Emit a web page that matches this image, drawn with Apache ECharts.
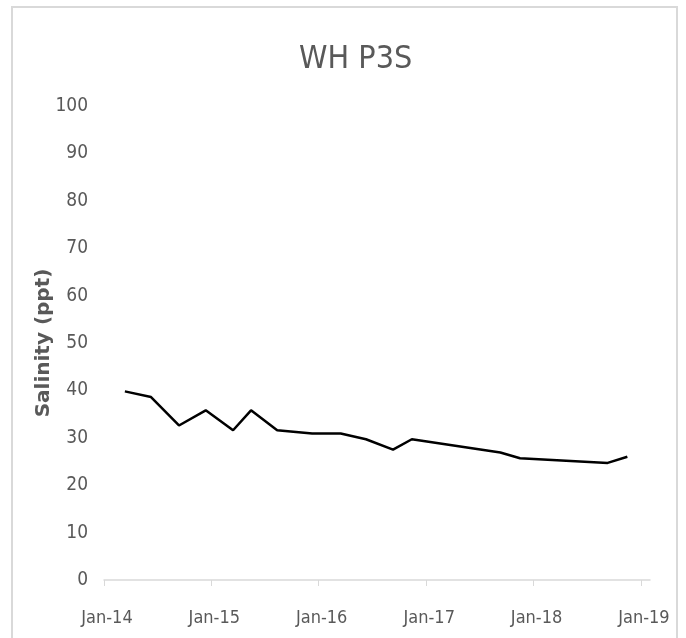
<!DOCTYPE html>
<html>
<head>
<meta charset="utf-8">
<script src="https://cdn.jsdelivr.net/npm/echarts@6/dist/echarts.min.js"></script>
<style>
html,body{margin:0;padding:0;background:#fff;}
#chart{width:686px;height:638px;}
</style>
</head>
<body>
<div id="chart"></div>
<script>
// Data
const titleText = 'WH P3S';
const yAxisName = 'Salinity (ppt)';
const sampleDates = [
  '2014-03-13','2014-06-10','2014-09-13','2014-12-13',
  '2015-03-16','2015-05-16','2015-08-13','2015-12-10',
  '2016-03-16','2016-06-10','2016-09-10','2016-11-13',
  '2017-09-10','2017-11-16','2018-09-10','2018-11-16'
];
const salinity = [
  39.8, 38.6, 32.6, 35.8,
  31.6, 35.8, 31.6, 30.9,
  30.9, 29.7, 27.5, 29.7,
  26.9, 25.7, 24.7, 26.0
];
const yTicks = [0,10,20,30,40,50,60,70,80,90,100];
const xMin = '2014-01-01';
const xMax = '2019-02-01';

const YEAR = 365.25 * 24 * 3600 * 1000;
const seriesData = sampleDates.map((d, i) => [d, salinity[i]]);
const labelFont = '"DejaVu Sans Condensed", "DejaVu Sans", sans-serif';

const chart = echarts.init(document.getElementById('chart'), null, {renderer: 'canvas'});
chart.setOption({
  animation: false,
  backgroundColor: '#ffffff',
  graphic: [{
    type: 'rect',
    shape: {x: 12, y: 7, width: 665, height: 700},
    style: {fill: 'none', stroke: '#d9d9d9', lineWidth: 2},
    silent: true, z: -1
  }],
  title: {
    text: titleText,
    left: 294,
    top: 39,
    textStyle: {fontFamily: labelFont, fontSize: 32, fontWeight: 'normal', color: '#595959'}
  },
  grid: {left: 104, right: 36, top: 106, bottom: 58, containLabel: false},
  xAxis: {
    type: 'time',
    min: xMin,
    max: xMax,
    minInterval: YEAR,
    maxInterval: YEAR,
    splitNumber: 5,
    axisLine: {show: true, lineStyle: {color: '#d9d9d9', width: 1.5}},
    axisTick: {show: true, length: 6, lineStyle: {color: '#d9d9d9'}},
    splitLine: {show: false},
    axisLabel: {
      formatter: '{MMM}-{yy}',
      fontFamily: labelFont, fontSize: 18, color: '#595959', margin: 29,
      padding: [0, 0, 0, 6],
      showMaxLabel: false
    }
  },
  yAxis: {
    type: 'value',
    min: yTicks[0],
    max: yTicks[yTicks.length - 1],
    interval: 10,
    name: yAxisName,
    nameLocation: 'middle',
    nameGap: 50,
    nameMoveOverlap: false,
    nameTextStyle: {fontFamily: '"DejaVu Sans", sans-serif', fontWeight: 'bold', fontSize: 20, color: '#595959'},
    axisLine: {show: false},
    axisTick: {show: false},
    splitLine: {show: false},
    axisLabel: {fontFamily: labelFont, fontSize: 19, color: '#595959', margin: 16}
  },
  series: [{
    type: 'line',
    data: seriesData,
    showSymbol: false,
    symbol: 'none',
    lineStyle: {color: '#000000', width: 2.5},
    itemStyle: {color: '#000000'}
  }]
});
</script>
</body>
</html>
